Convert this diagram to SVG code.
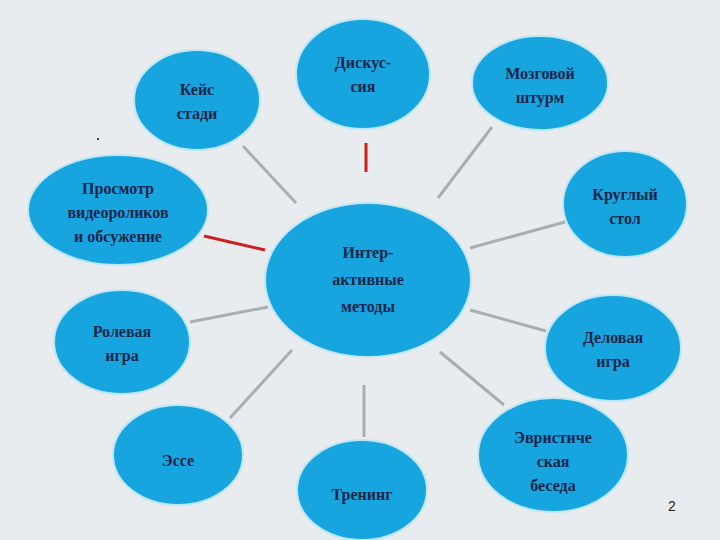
<svg xmlns="http://www.w3.org/2000/svg" width="720" height="540" viewBox="0 0 720 540">
<style>
.n{fill:#17a5e0;stroke:#bfe6f5;stroke-width:2}
.t{font-family:"Liberation Serif",serif;font-weight:bold;font-size:16px;fill:#13254a;text-anchor:middle}
.c{stroke:#a8aeb2;stroke-width:3}
.r{stroke:#cc2020;stroke-width:3}
</style>
<rect width="720" height="540" fill="#e9ecee"/>
<g id="connectors">
<line class="c" x1="243" y1="146" x2="296" y2="203"/>
<line class="r" x1="366" y1="143" x2="366" y2="172"/>
<line class="c" x1="492" y1="127" x2="438" y2="198"/>
<line class="r" x1="204" y1="236" x2="265" y2="250"/>
<line class="c" x1="565" y1="222" x2="470" y2="248"/>
<line class="c" x1="190" y1="322" x2="268" y2="307"/>
<line class="c" x1="546" y1="331" x2="470" y2="310"/>
<line class="c" x1="230" y1="418" x2="292" y2="350"/>
<line class="c" x1="364" y1="385" x2="364" y2="437"/>
<line class="c" x1="504" y1="405" x2="440" y2="352"/>
</g>
<circle cx="98" cy="139" r="1" fill="#000"/>
<g id="center"><ellipse class="n" cx="368" cy="280" rx="103" ry="77"/>
<text class="t" font-size="19" x="368" y="258">Интер-</text><text class="t" font-size="19" x="368" y="285">активные</text><text class="t" font-size="19" x="368" y="312">методы</text></g>
<g id="case"><ellipse class="n" cx="197" cy="100" rx="63" ry="50"/><text class="t" x="197" y="95">Кейс</text><text class="t" x="197" y="119">стади</text></g>
<g id="disc"><ellipse class="n" cx="363" cy="74" rx="67" ry="55"/><text class="t" x="363" y="68">Дискус-</text><text class="t" x="363" y="92">сия</text></g>
<g id="brain"><ellipse class="n" cx="540" cy="83" rx="68" ry="47"/><text class="t" x="540" y="79">Мозговой</text><text class="t" x="540" y="103">штурм</text></g>
<g id="video"><ellipse class="n" cx="118" cy="210" rx="90" ry="55"/><text class="t" x="118" y="194">Просмотр</text><text class="t" x="118" y="218">видеороликов</text><text class="t" x="118" y="242">и обсужение</text></g>
<g id="round"><ellipse class="n" cx="625" cy="204" rx="62" ry="53"/><text class="t" x="625" y="200">Круглый</text><text class="t" x="625" y="224">стол</text></g>
<g id="role"><ellipse class="n" cx="122" cy="342" rx="68" ry="52"/><text class="t" x="122" y="337">Ролевая</text><text class="t" x="122" y="361">игра</text></g>
<g id="business"><ellipse class="n" cx="613" cy="348" rx="68" ry="53"/><text class="t" x="613" y="343">Деловая</text><text class="t" x="613" y="367">игра</text></g>
<g id="essay"><ellipse class="n" cx="178" cy="455" rx="65" ry="50"/><text class="t" x="178" y="466">Эссе</text></g>
<g id="training"><ellipse class="n" cx="362" cy="490" rx="65" ry="50"/><text class="t" x="362" y="500">Тренинг</text></g>
<g id="heur"><ellipse class="n" cx="553" cy="455" rx="75" ry="57"/><text class="t" x="553" y="443">Эвристиче</text><text class="t" x="553" y="467">ская</text><text class="t" x="553" y="491">беседа</text></g>
<text x="672" y="511" font-family="Liberation Sans,sans-serif" font-size="14" fill="#222" text-anchor="middle">2</text>
</svg>
